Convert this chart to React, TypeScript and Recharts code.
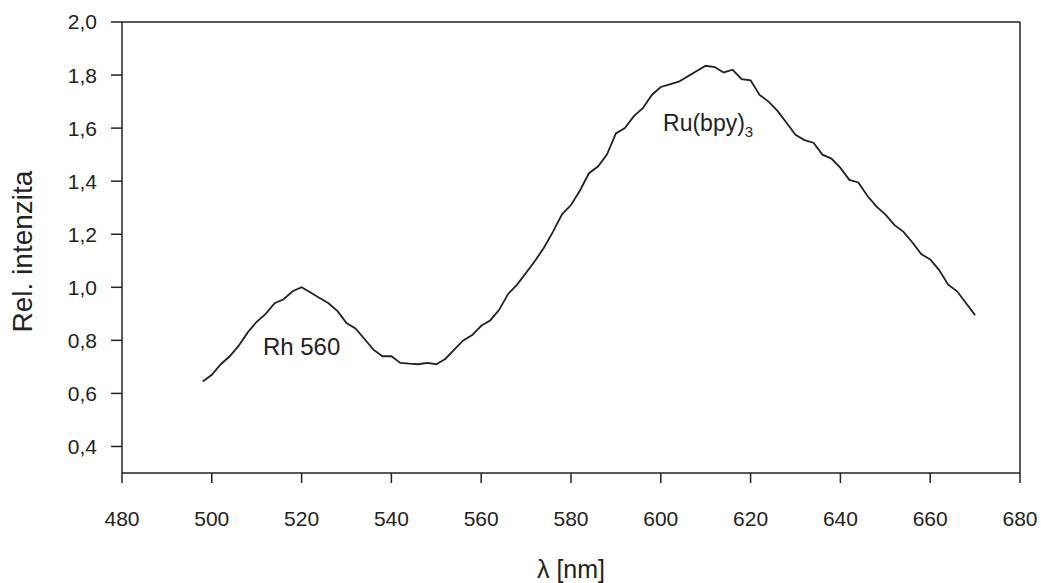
import React from "react";
import {
  LineChart,
  Line,
  XAxis,
  YAxis,
  ReferenceLine,
  ReferenceDot,
  Label,
} from "recharts";

// wavelength in nm, one reading every 2 nm
const wavelengths = [
  498, 500, 502, 504, 506, 508, 510, 512, 514, 516, 518, 520, 522, 524, 526, 528,
  530, 532, 534, 536, 538, 540, 542, 544, 546, 548, 550, 552, 554, 556, 558, 560,
  562, 564, 566, 568, 570, 572, 574, 576, 578, 580, 582, 584, 586, 588, 590, 592,
  594, 596, 598, 600, 602, 604, 606, 608, 610, 612, 614, 616, 618, 620, 622, 624,
  626, 628, 630, 632, 634, 636, 638, 640, 642, 644, 646, 648, 650, 652, 654, 656,
  658, 660, 662, 664, 666, 668, 670,
];

const intensity = [
  0.645, 0.67, 0.71, 0.74, 0.78, 0.83, 0.87, 0.9, 0.94, 0.955, 0.985, 1.0, 0.98, 0.96, 0.94, 0.91,
  0.865, 0.845, 0.805, 0.765, 0.74, 0.74, 0.715, 0.712, 0.71, 0.715, 0.71, 0.73, 0.765, 0.8, 0.82, 0.855,
  0.875, 0.915, 0.975, 1.01, 1.055, 1.1, 1.15, 1.21, 1.275, 1.31, 1.365, 1.43, 1.455, 1.5, 1.58, 1.6,
  1.645, 1.675, 1.725, 1.755, 1.765, 1.775, 1.795, 1.815, 1.835, 1.83, 1.81, 1.82, 1.785, 1.78, 1.725, 1.7,
  1.665, 1.62, 1.575, 1.555, 1.545, 1.5, 1.485, 1.45, 1.405, 1.395, 1.345, 1.305, 1.275, 1.235, 1.21, 1.17,
  1.125, 1.105, 1.065, 1.01, 0.985, 0.94, 0.895,
];

const xTicks = [480, 500, 520, 540, 560, 580, 600, 620, 640, 660, 680];
const yTicks = [0.4, 0.6, 0.8, 1.0, 1.2, 1.4, 1.6, 1.8, 2.0];

const data = wavelengths.map((nm, i) => ({ nm, value: intensity[i] }));

const INK = "#222";
const FONT = "'Liberation Sans', Arial, sans-serif";

const comma = (v: number) => v.toFixed(1).replace(".", ",");

export default function App() {
  return (
    <div style={{ position: "absolute", left: 0, top: 0, background: "#fff" }}>
      <LineChart
        width={1041}
        height={583}
        data={data}
        margin={{ top: 22, right: 21, bottom: 0, left: 0 }}
        style={{ fontFamily: FONT }}
      >
        <XAxis
          dataKey="nm"
          type="number"
          domain={[480, 680]}
          ticks={xTicks}
          height={110}
          stroke={INK}
          strokeWidth={1.5}
          tickSize={10}
          tickMargin={28}
          tick={{ fill: INK, fontSize: 21 }}
        >
          <Label
            content={({ viewBox }: any) => (
              <text
                x={viewBox.x + viewBox.width / 2}
                y={578}
                textAnchor="middle"
                fill={INK}
                fontSize={25}
              >
                λ [nm]
              </text>
            )}
          />
        </XAxis>
        <YAxis
          type="number"
          domain={[0.3, 2.0]}
          ticks={yTicks}
          width={122}
          stroke={INK}
          strokeWidth={1.5}
          tickSize={11}
          tickMargin={14}
          tickFormatter={comma}
          tick={{ fill: INK, fontSize: 21 }}
        >
          <Label
            content={({ viewBox }: any) => {
              const cy = viewBox.y + viewBox.height / 2 + 4;
              return (
                <text
                  x={32}
                  y={cy}
                  transform={`rotate(-90 32 ${cy})`}
                  textAnchor="middle"
                  fill={INK}
                  fontSize={28}
                >
                  Rel. intenzita
                </text>
              );
            }}
          />
        </YAxis>
        <ReferenceLine y={2.0} stroke={INK} strokeWidth={1.5} />
        <ReferenceLine x={680} stroke={INK} strokeWidth={1.5} />
        <ReferenceDot
          x={520}
          y={0.775}
          r={0}
          stroke="none"
          label={{
            content: ({ viewBox }: any) => (
              <text
                x={viewBox.x}
                y={viewBox.y + 8}
                textAnchor="middle"
                fill={INK}
                fontSize={24}
              >
                Rh 560
              </text>
            ),
          }}
        />
        <ReferenceDot
          x={600.5}
          y={1.62}
          r={0}
          stroke="none"
          label={{
            content: ({ viewBox }: any) => (
              <text x={viewBox.x} y={viewBox.y + 8} fill={INK} fontSize={23}>
                Ru(bpy)
                <tspan dy={6} fontSize={15}>
                  3
                </tspan>
              </text>
            ),
          }}
        />
        <Line
          type="linear"
          dataKey="value"
          stroke={INK}
          strokeWidth={1.8}
          dot={false}
          isAnimationActive={false}
        />
      </LineChart>
    </div>
  );
}
